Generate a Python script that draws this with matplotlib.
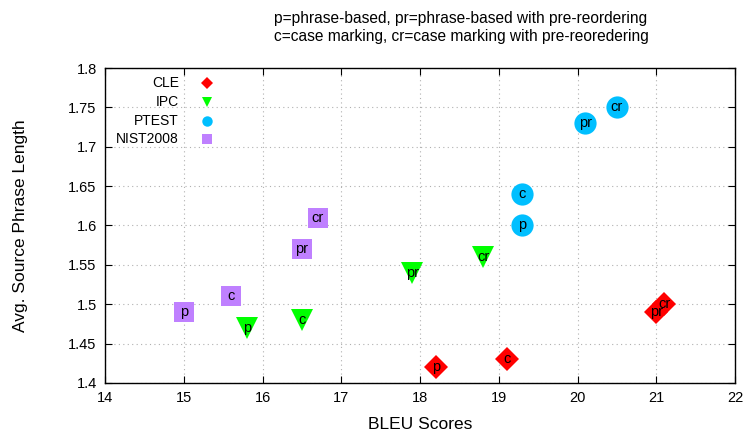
import matplotlib
matplotlib.use("Agg")
import matplotlib.pyplot as plt
import numpy as np

plt.rcParams["font.family"] = ["Liberation Sans", "DejaVu Sans"]

# data
systems = ["p", "c", "pr", "cr"]
cle_bleu = [18.2, 19.1, 21.0, 21.1]
cle_len = [1.42, 1.43, 1.49, 1.50]
ipc_bleu = [15.8, 16.5, 17.9, 18.8]
ipc_len = [1.47, 1.48, 1.54, 1.56]
ptest_bleu = [19.3, 19.3, 20.1, 20.5]
ptest_len = [1.60, 1.64, 1.73, 1.75]
nist_bleu = [15.0, 15.6, 16.5, 16.7]
nist_len = [1.49, 1.51, 1.57, 1.61]

x_ticks = [14, 15, 16, 17, 18, 19, 20, 21, 22]
y_ticks = [1.4, 1.45, 1.5, 1.55, 1.6, 1.65, 1.7, 1.75, 1.8]

series = [
    ("CLE", cle_bleu, cle_len, "D", "#ff0000", 12),
    ("IPC", ipc_bleu, ipc_len, "v", "#00ff00", 16.5),
    ("PTEST", ptest_bleu, ptest_len, "o", "#00bfff", 16),
    ("NIST2008", nist_bleu, nist_len, "s", "#bf80ff", 15),
]

fig = plt.figure(figsize=(7.44, 4.37), dpi=100)
ax = fig.add_axes([105 / 744, 1 - 383 / 437, 630 / 744, 315 / 437])

for name, xs, ys, mk, col, ms in series:
    ax.plot(xs, ys, linestyle="none", marker=mk, color=col, markersize=ms,
            markeredgewidth=0, zorder=3)
    for lab, xv, yv in zip(systems, xs, ys):
        ax.text(xv, yv, lab, ha="center", va="center", fontsize=10.5,
                color="black", zorder=4)

ax.set_xlim(14, 22)
ax.set_ylim(1.4, 1.8)
ax.set_xticks(x_ticks)
ax.set_yticks(y_ticks)
ax.set_xticklabels([str(t) for t in x_ticks])
ax.set_yticklabels([f"{t:g}" for t in y_ticks])
ax.tick_params(direction="in", length=5, top=True, right=True,
               labeltop=False, labelright=False, labelsize=10.5, pad=6)
ax.grid(True, linestyle=(0, (1, 3)), color="#b0b0b0", linewidth=0.8)
for sp in ax.spines.values():
    sp.set_linewidth(1.0)

ax.set_xlabel("BLEU Scores", fontsize=12.5)
ax.set_ylabel("Avg. Source Phrase Length", fontsize=12.5)
ax.xaxis.set_label_coords((420 - 105) / 630, (383 - 417) / 315)
ax.yaxis.set_label_coords((28 - 105) / 630, 0.5)

fig.text(461 / 744, 1 - 18 / 437, "p=phrase-based, pr=phrase-based with pre-reordering",
         ha="center", va="center", fontsize=11.2)
fig.text(461 / 744, 1 - 37 / 437, "c=case marking, cr=case marking with pre-reoredering",
         ha="center", va="center", fontsize=11.2)

# key, text right-aligned with the marker to its right
key_y = [83, 102, 121, 139]
for (name, xs, ys, mk, col, ms), yy in zip(series, key_y):
    fig.text(179 / 744, 1 - yy / 437, name, ha="right", va="center", fontsize=10)
    ax.plot([(207 - 105) / 630], [(383 - yy) / 315], transform=ax.transAxes,
            linestyle="none", marker=mk, color=col, markersize=7.5 if mk != "D" else 6.5,
            markeredgewidth=0, clip_on=False)

fig.savefig("out.png", dpi=100)
